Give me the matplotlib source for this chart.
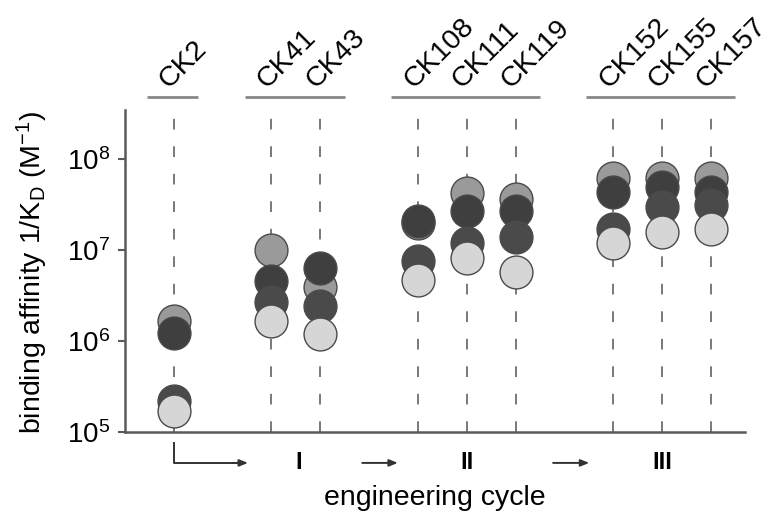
import matplotlib
matplotlib.use("Agg")
import matplotlib.pyplot as plt
from matplotlib import transforms

plt.rcParams["font.family"] = ["Liberation Sans", "DejaVu Sans"]
plt.rcParams["mathtext.fontset"] = "custom"
plt.rcParams["mathtext.rm"] = "Liberation Sans"
plt.rcParams["mathtext.it"] = "Liberation Sans:italic"
plt.rcParams["mathtext.default"] = "regular"

# variants, grouped by engineering round
groups = [["CK2"], ["CK41", "CK43"], ["CK108", "CK111", "CK119"],
          ["CK152", "CK155", "CK157"]]
cycle_labels = ["I", "II", "III"]

# binding affinity 1/KD (M^-1), four determinations per variant
aff_medium = [1.66e6, 1.0e7, 3.9e6, 2.0e7, 4.2e7, 3.6e7, 6.2e7, 6.2e7, 6.2e7]
aff_dark1 = [1.23e6, 4.6e6, 6.3e6, 2.1e7, 2.7e7, 2.7e7, 4.4e7, 5.0e7, 4.4e7]
aff_dark2 = [2.2e5, 2.7e6, 2.4e6, 7.6e6, 1.2e7, 1.4e7, 1.7e7, 3.0e7, 3.1e7]
aff_light = [1.7e5, 1.66e6, 1.2e6, 4.7e6, 8.1e6, 5.8e6, 1.2e7, 1.6e7, 1.7e7]

ytick_vals = [1e5, 1e6, 1e7, 1e8]

# x positions: consecutive within a group, one empty slot between groups
xpos, group_spans = [], []
x = 1
for g in groups:
    start = x
    for _ in g:
        xpos.append(x)
        x += 1
    group_spans.append((start, x - 1))
    x += 1
names = [n for g in groups for n in g]

fig = plt.figure(figsize=(7.72, 5.23), dpi=100)
ax = fig.add_axes([125 / 772, 1 - 432 / 523, 620 / 772, 322 / 523])

ytop = 10 ** 8.54
ax.set_yscale("log")
ax.set_ylim(1e5, ytop)
ax.set_xlim(0, 12.7)

# dashed guide lines for each variant
ax.vlines(xpos, 1e5, ytop, colors="#555555", linestyles=(0, (7, 11)),
          linewidth=1.1, zorder=1)

ms = 560
edge = "#4a4a4a"
ax.scatter(xpos, aff_medium, s=ms, c="#9a9a9a", edgecolors=edge, linewidths=1.0, zorder=2)
ax.scatter(xpos, aff_dark1, s=ms, c="#3f3f3f", edgecolors=edge, linewidths=1.0, zorder=3)
ax.scatter(xpos, aff_dark2, s=ms, c="#4a4a4a", edgecolors=edge, linewidths=1.0, zorder=4)
ax.scatter(xpos, aff_light, s=ms, c="#d6d6d6", edgecolors=edge, linewidths=1.0, zorder=5)

# axes styling
for side in ("top", "right"):
    ax.spines[side].set_visible(False)
for side in ("left", "bottom"):
    ax.spines[side].set_color("#5a5a5a")
    ax.spines[side].set_linewidth(1.8)
ax.set_xticks([])
ax.set_yticks(ytick_vals)
ax.yaxis.set_minor_locator(matplotlib.ticker.NullLocator())
ax.tick_params(axis="y", direction="out", length=5, width=1.5, color="#5a5a5a",
               labelsize=20, pad=6)

ax.set_ylabel("binding affinity 1/$K_D$ (M$^{-1}$)", fontsize=20.5)
ax.yaxis.set_label_coords(-0.121, 0.494)

trans = transforms.blended_transform_factory(ax.transData, ax.transAxes)

# group header lines and rotated variant names
for (a, b) in group_spans:
    ax.plot([a - 0.55, b + 0.5], [1.04, 1.04], transform=trans, clip_on=False,
            color="#888888", linewidth=2.0, solid_capstyle="butt")
for xp, n in zip(xpos, names):
    ax.text(xp - 0.1, 1.066, n, transform=trans, rotation=45,
            rotation_mode="anchor", ha="left", va="baseline", fontsize=20.5)

# engineering-cycle annotation below the axis
ya = -0.096
ax.plot([1, 1, 2.3], [-0.034, ya, ya], transform=trans, clip_on=False,
        color="#333333", linewidth=1.4)
arrow_kw = dict(arrowstyle="-|>,head_length=0.5,head_width=0.2",
                color="#333333", linewidth=1.4, shrinkA=0, shrinkB=0)
ax.annotate("", xy=(2.52, ya), xytext=(2.2, ya), xycoords=trans,
            textcoords=trans, arrowprops=arrow_kw, annotation_clip=False)
for x0, x1 in [(4.86, 5.59), (8.77, 9.51)]:
    ax.annotate("", xy=(x1, ya), xytext=(x0, ya), xycoords=trans,
                textcoords=trans, arrowprops=arrow_kw, annotation_clip=False)
for xp, lab in zip([3.55, 7, 11], cycle_labels):
    ax.text(xp, ya, lab, transform=trans, ha="center", va="center",
            fontsize=17, fontweight="bold", clip_on=False)

ax.text(0.5, -0.205, "engineering cycle", transform=ax.transAxes,
        ha="center", va="center", fontsize=20.5)

fig.savefig("out.png", dpi=100)
